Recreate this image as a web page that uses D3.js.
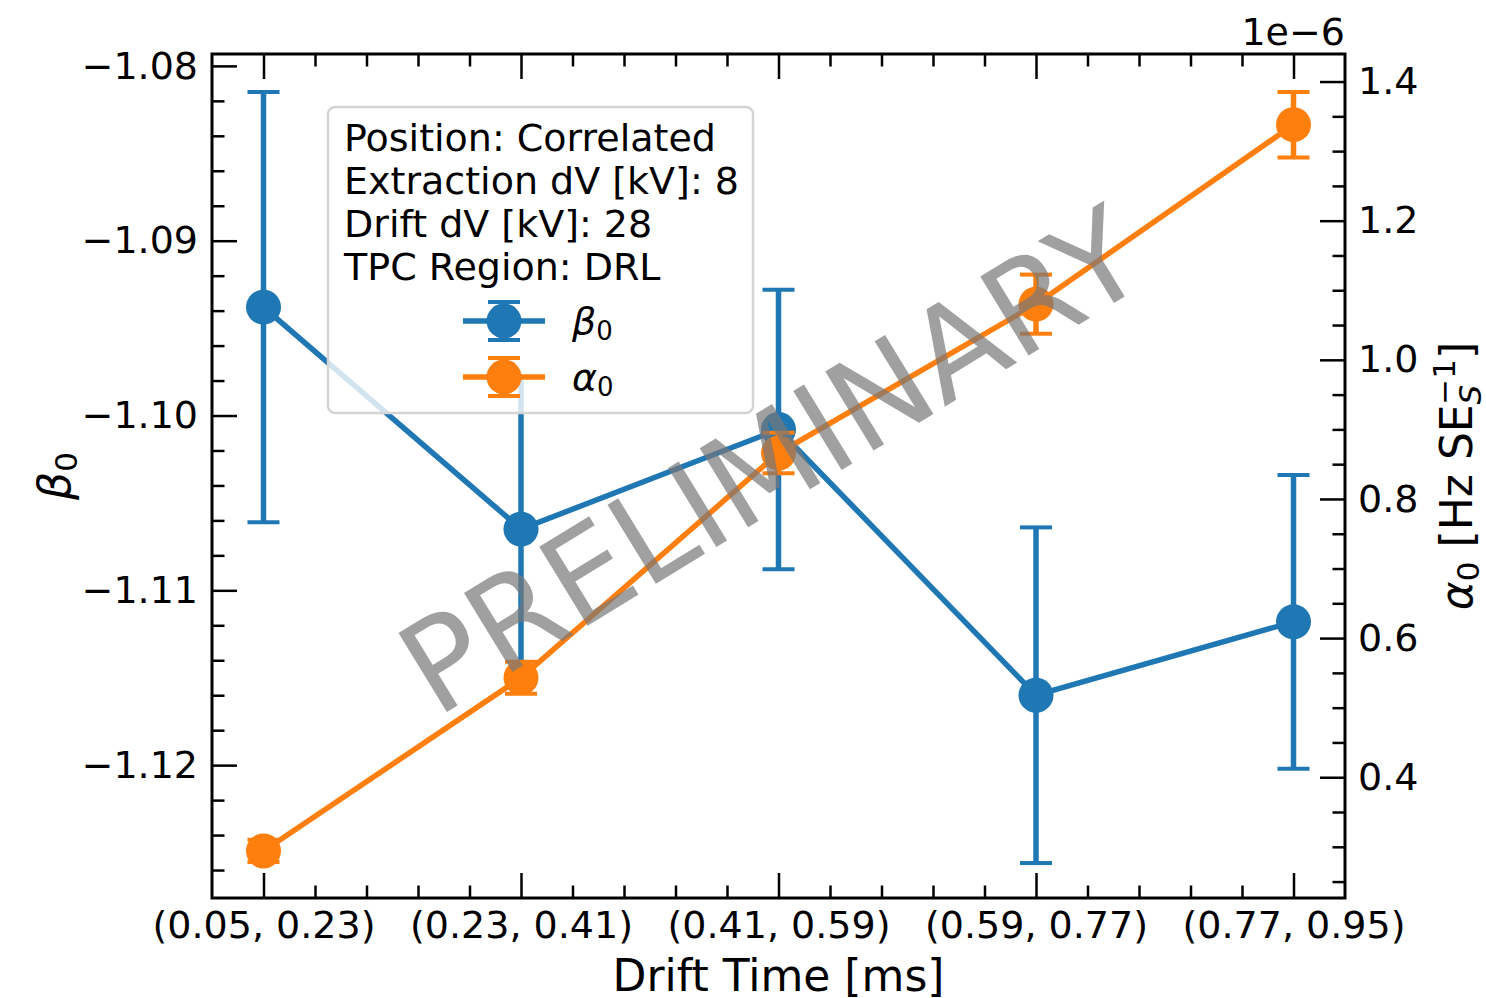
<!DOCTYPE html>
<html>
<head>
<meta charset="utf-8">
<script src="https://cdn.jsdelivr.net/npm/d3@7"></script>
<style>
	body { margin:0; background:#fff; }
	text { font-family:"DejaVu Sans", sans-serif; fill:#000; }
</style>
</head>
<body>
<div id="container"></div>
<script>
// bins of drift time
var categories = ['(0.05, 0.23)','(0.23, 0.41)','(0.41, 0.59)','(0.59, 0.77)','(0.77, 0.95)'];

// beta_0 (left axis)
var beta0 = [-1.0938, -1.1065, -1.1008, -1.1160, -1.1118];
var beta0Err = [0.0123, 0.0087, 0.0080, 0.0096, 0.0084];

// alpha_0 (right axis, in units of 1e-6)
var alpha0 = [0.294, 0.543, 0.866, 1.080, 1.338];
var alpha0Err = [0.016, 0.023, 0.029, 0.0425, 0.047];

var betaTicks = [-1.08, -1.09, -1.10, -1.11, -1.12];
var alphaTicks = [0.4, 0.6, 0.8, 1.0, 1.2, 1.4];

var legendLines = ['Position: Correlated','Extraction dV [kV]: 8','Drift dV [kV]: 28','TPC Region: DRL'];

var init = function(){

	return {

		w:1486,
		h:998,

		colors:{
			beta:'#1f77b4',
			alpha:'#ff7f0e'
		},

		generate:function(){
			var self = vis;

			var margin = { top:54, right:141, bottom:100, left:212 },
				width = self.w -margin.left -margin.right,
				height = self.h -margin.top -margin.bottom;

			self.svg = d3.select('#container').append('svg')
				.attr('width',self.w)
				.attr('height',self.h);

			var g = self.svg.append('g')
				.attr('transform','translate(' +margin.left +',' +margin.top +')');

			var x = d3.scaleLinear().domain([-0.2,4.2]).range([0,width]);
			var yL = d3.scaleLinear().domain([-1.1276,-1.07932]).range([height,0]);
			var yR = d3.scaleLinear().domain([0.2264,1.4396]).range([height,0]);

			// minor tick positions
			var xMinor = d3.range(-1,22).map(function(i){ return i*0.2; })
				.filter(function(v){ return v > -0.19 && v < 4.19 && Math.abs(v -Math.round(v)) > 0.01; });
			var yLMinor = d3.range(0,25).map(function(i){ return -1.078 -i*0.002; })
				.filter(function(v){ return v > -1.1276 && v < -1.07932 && Math.abs(v*100 -Math.round(v*100)) > 0.01; });
			var yRMinor = d3.range(5,29).map(function(i){ return i*0.05; })
				.filter(function(v){ return Math.abs(v*5 -Math.round(v*5)) > 0.01; });

			var fmtL = d3.format('.2f'),
				fmtR = d3.format('.1f');

			var addAxis = function(axis,tx,ty){
				var a = g.append('g')
					.attr('class','axis')
					.attr('transform','translate(' +tx +',' +ty +')')
					.call(axis);
				a.select('.domain').remove();
				a.selectAll('line').attr('stroke','#000').attr('stroke-width',2.5);
				a.selectAll('text').style('font-size','38px');
				return a;
			};

			// bottom
			addAxis(d3.axisBottom(x).tickValues(d3.range(5)).tickSize(-25).tickPadding(13)
				.tickFormat(function(i){ return categories[i]; }),0,height);
			addAxis(d3.axisBottom(x).tickValues(xMinor).tickSize(-12.5).tickFormat(''),0,height);
			// top
			addAxis(d3.axisTop(x).tickValues(d3.range(5)).tickSize(-25).tickFormat(''),0,0);
			addAxis(d3.axisTop(x).tickValues(xMinor).tickSize(-12.5).tickFormat(''),0,0);
			// left
			addAxis(d3.axisLeft(yL).tickValues(betaTicks).tickSize(-25).tickPadding(14)
				.tickFormat(fmtL),0,0);
			addAxis(d3.axisLeft(yL).tickValues(yLMinor).tickSize(-12.5).tickFormat(''),0,0);
			// right
			addAxis(d3.axisRight(yR).tickValues(alphaTicks).tickSize(-25).tickPadding(13)
				.tickFormat(fmtR),width,0);
			addAxis(d3.axisRight(yR).tickValues(yRMinor).tickSize(-12.5).tickFormat(''),width,0);

			// frame
			g.append('rect')
				.attr('width',width)
				.attr('height',height)
				.attr('fill','none')
				.attr('stroke','#000')
				.attr('stroke-width',3);

			// series
			var drawSeries = function(vals,errs,y,color){
				var s = g.append('g');
				var pts = vals.map(function(v,i){ return { i:i, v:v, e:errs[i] }; });

				var bars = s.selectAll('g.err')
					.data(pts);
				var be = bars.enter().append('g').classed('err',true);
				be.append('line')
					.attr('x1',function(d){ return x(d.i); })
					.attr('x2',function(d){ return x(d.i); })
					.attr('y1',function(d){ return y(d.v -d.e); })
					.attr('y2',function(d){ return y(d.v +d.e); })
					.attr('stroke',color)
					.attr('stroke-width',5.5);
				[-1,1].forEach(function(sgn){
					be.append('line')
						.attr('x1',function(d){ return x(d.i) -16; })
						.attr('x2',function(d){ return x(d.i) +16; })
						.attr('y1',function(d){ return y(d.v +sgn*d.e); })
						.attr('y2',function(d){ return y(d.v +sgn*d.e); })
						.attr('stroke',color)
						.attr('stroke-width',4);
				});

				s.append('path')
					.datum(pts)
					.attr('fill','none')
					.attr('stroke',color)
					.attr('stroke-width',5.5)
					.attr('d',d3.line()
						.x(function(d){ return x(d.i); })
						.y(function(d){ return y(d.v); }));

				s.selectAll('circle')
					.data(pts)
					.enter().append('circle')
					.attr('cx',function(d){ return x(d.i); })
					.attr('cy',function(d){ return y(d.v); })
					.attr('r',17.5)
					.attr('fill',color);
			};

			drawSeries(beta0,beta0Err,yL,self.colors.beta);
			drawSeries(alpha0,alpha0Err,yR,self.colors.alpha);

			// watermark
			g.append('text')
				.attr('transform','translate(' +(width/2 -8) +',' +(height/2 -16) +') rotate(-31.5)')
				.attr('text-anchor','middle')
				.attr('dy','0.36em')
				.style('font-size','127px')
				.style('fill','#777')
				.style('fill-opacity',0.7)
				.text('PRELIMINARY');

			// legend
			var lg = self.svg.append('g');
			lg.append('rect')
				.attr('x',328)
				.attr('y',107)
				.attr('width',425)
				.attr('height',306)
				.attr('rx',7)
				.attr('fill','#fff')
				.attr('fill-opacity',0.8)
				.attr('stroke','#d4d4d4')
				.attr('stroke-width',2.5);
			lg.selectAll('text.line')
				.data(legendLines)
				.enter().append('text')
				.classed('line',true)
				.attr('x',344)
				.attr('y',function(d,i){ return 151 +i*43; })
				.style('font-size','38px')
				.text(function(d){ return d; });

			var handles = [
				{ color:self.colors.beta, sym:'β', y:321 },
				{ color:self.colors.alpha, sym:'α', y:377 }
			];
			handles.forEach(function(h){
				lg.append('line')
					.attr('x1',463).attr('x2',545)
					.attr('y1',h.y).attr('y2',h.y)
					.attr('stroke',h.color).attr('stroke-width',5.5);
				lg.append('line')
					.attr('x1',504).attr('x2',504)
					.attr('y1',h.y -19).attr('y2',h.y +19)
					.attr('stroke',h.color).attr('stroke-width',5.5);
				[-19,19].forEach(function(o){
					lg.append('line')
						.attr('x1',488).attr('x2',520)
						.attr('y1',h.y +o).attr('y2',h.y +o)
						.attr('stroke',h.color).attr('stroke-width',4);
				});
				lg.append('circle')
					.attr('cx',504).attr('cy',h.y).attr('r',17.5)
					.attr('fill',h.color);
				var t = lg.append('text')
					.attr('x',572)
					.attr('y',h.y +13)
					.style('font-size','38px');
				t.append('tspan').style('font-style','italic').text(h.sym);
				t.append('tspan').attr('dy',6).style('font-size','26px').text('0');
			});

			// axis labels
			self.svg.append('text')
				.attr('x',margin.left +width/2)
				.attr('y',991)
				.attr('text-anchor','middle')
				.style('font-size','44px')
				.text('Drift Time [ms]');

			var yl = self.svg.append('text')
				.attr('transform','translate(70,' +(margin.top +height/2) +') rotate(-90)')
				.attr('text-anchor','middle')
				.style('font-size','44px');
			yl.append('tspan').style('font-style','italic').text('β');
			yl.append('tspan').attr('dy',7).style('font-size','31px').text('0');

			var yr = self.svg.append('text')
				.attr('transform','translate(1472,' +(margin.top +height/2) +') rotate(-90)')
				.attr('text-anchor','middle')
				.style('font-size','44px');
			yr.append('tspan').style('font-style','italic').text('α');
			yr.append('tspan').attr('dy',7).style('font-size','31px').text('0');
			yr.append('tspan').attr('dy',-7).text(' [Hz SE');
			yr.append('tspan').attr('dy',9).style('font-size','31px').style('font-style','italic').text('S');
			yr.append('tspan').attr('dx',-20).attr('dy',-26).style('font-size','31px').text('−1');
			yr.append('tspan').attr('dy',17).text(']');

			// offset text
			self.svg.append('text')
				.attr('x',margin.left +width)
				.attr('y',45)
				.attr('text-anchor','end')
				.style('font-size','38px')
				.text('1e−6');
		}
	}
}

var vis = init();
vis.generate();
</script>
</body>
</html>
